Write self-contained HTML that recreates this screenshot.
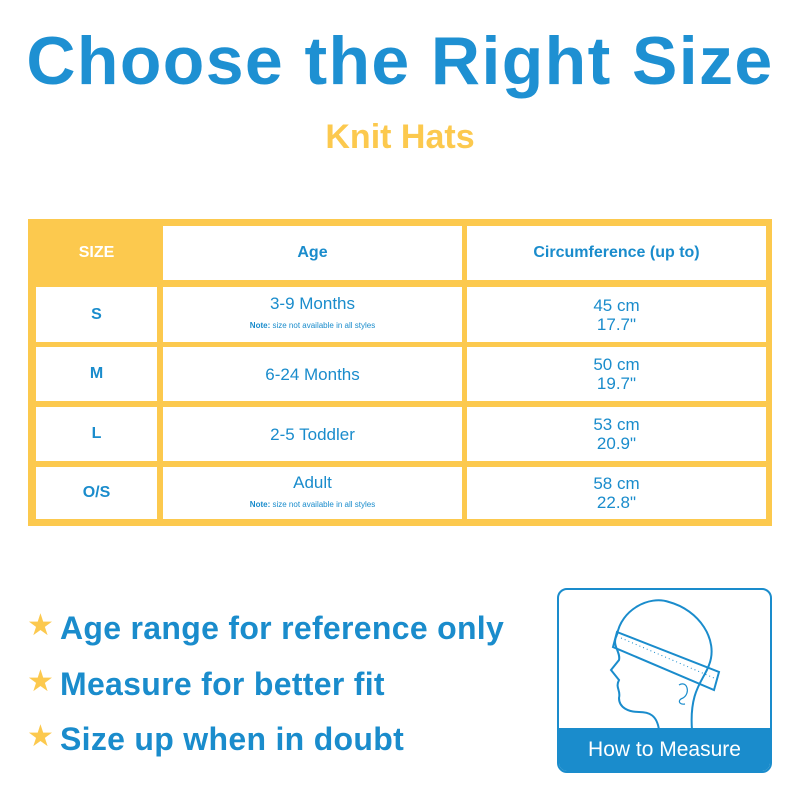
<!DOCTYPE html>
<html><head><style>
body{margin:0;width:800px;height:800px;background:#fff;position:relative;overflow:hidden;font-family:"Liberation Sans",sans-serif;color:#1a8ccc}
.a{position:absolute}
.c{position:absolute;background:#fff;display:flex;flex-direction:column;align-items:center;justify-content:center;text-align:center;color:#1a8ccc}
.h{font-weight:bold;font-size:16px}
.t{font-size:17px;line-height:19px}
.n{font-size:8px;color:#1a8ccc;margin-top:3px}
.b{position:absolute;left:60px;font-weight:bold;font-size:32px;letter-spacing:0.3px;color:#1a8ccc;white-space:nowrap}
.s{position:absolute;left:27px;font-size:30px;color:#fcc94e}
</style></head><body>
<div class="a" style="left:0;width:800px;top:22px;text-align:center;font-size:68px;font-weight:bold;color:#1e90d2;letter-spacing:1.4px">Choose the Right Size</div>
<div class="a" style="left:0;width:800px;top:118px;text-align:center;font-size:34px;font-weight:bold;color:#fcc94e">Knit Hats</div>

<div class="a" style="left:28px;top:219px;width:744px;height:307px;background:#fcc94e"></div>
<div class="a" style="left:36px;top:226px;width:121px;height:54px;display:flex;align-items:center;justify-content:center;color:#fff;font-weight:bold;font-size:16px">SIZE</div>
<div class="c h" style="left:163px;top:226px;width:299px;height:54px">Age</div>
<div class="c h" style="left:467px;top:226px;width:299px;height:54px">Circumference (up to)</div>

<div class="c h" style="left:36px;top:287px;width:121px;height:55px">S</div>
<div class="c t" style="left:163px;top:287px;width:299px;height:55px">3-9 Months<div class="n"><b>Note:</b> size not available in all styles</div></div>
<div class="c t" style="left:467px;top:287px;width:299px;height:55px">45 cm<br>17.7"</div>

<div class="c h" style="left:36px;top:347px;width:121px;height:54px">M</div>
<div class="c t" style="left:163px;top:347px;width:299px;height:54px">6-24 Months</div>
<div class="c t" style="left:467px;top:347px;width:299px;height:54px">50 cm<br>19.7"</div>

<div class="c h" style="left:36px;top:407px;width:121px;height:54px">L</div>
<div class="c t" style="left:163px;top:407px;width:299px;height:54px">2-5 Toddler</div>
<div class="c t" style="left:467px;top:407px;width:299px;height:54px">53 cm<br>20.9"</div>

<div class="c h" style="left:36px;top:467px;width:121px;height:52px">O/S</div>
<div class="c t" style="left:163px;top:467px;width:299px;height:52px">Adult<div class="n"><b>Note:</b> size not available in all styles</div></div>
<div class="c t" style="left:467px;top:467px;width:299px;height:52px">58 cm<br>22.8"</div>

<div class="s" style="top:608px">★</div><div class="b" style="top:610px">Age range for reference only</div>
<div class="s" style="top:664px">★</div><div class="b" style="top:666px">Measure for better fit</div>
<div class="s" style="top:719px">★</div><div class="b" style="top:721px">Size up when in doubt</div>

<div class="a" style="left:557px;top:588px;width:211px;height:181px;border:2px solid #1a8ccc;border-radius:10px;overflow:hidden">
<svg width="211" height="181" style="position:absolute;left:0;top:0" fill="none" stroke="#1a8ccc" stroke-width="2">
<path d="M58 45 C52 55 62 62 60 70 L52 80 L60 90 C56 98 62 100 60 108 C60 118 70 122 80 122 C90 122 98 125 100 140"/>
<path d="M58 45 C62 20 90 5 110 12 C140 20 160 50 150 75 C145 90 130 100 133 140"/>
<path d="M58 42 L160 82 L155 100 L54 57 Z" stroke-width="2"/>
<path d="M62 48 L155 88" stroke-width="1" stroke-dasharray="1 3"/>
<path d="M120 95 C128 90 132 103 124 108 C118 110 120 115 126 114" stroke-width="1.2"/>
</svg>
<div class="a" style="left:0;top:138px;width:211px;height:43px;background:#1a8ccc;color:#fff;font-size:21px;display:flex;align-items:center;justify-content:center">How to Measure</div>
</div>
</body></html>
